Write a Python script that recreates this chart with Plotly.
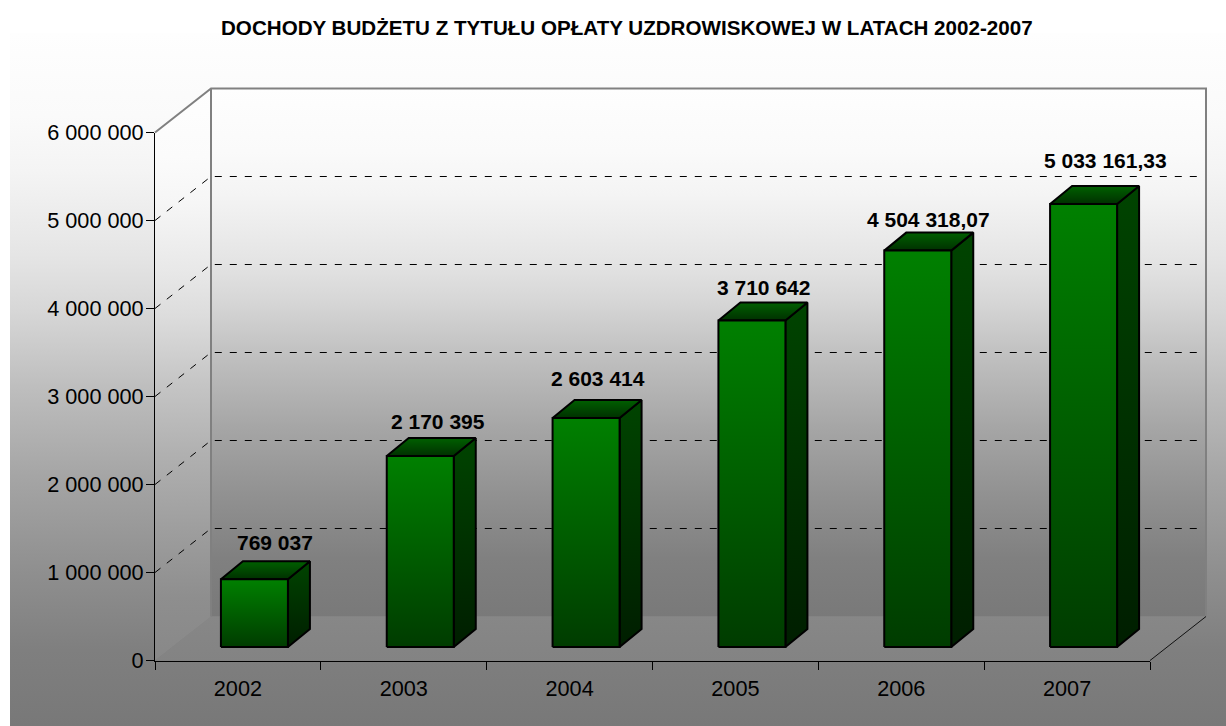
import plotly.graph_objects as go

TITLE = "DOCHODY BUDŻETU Z TYTUŁU OPŁATY UZDROWISKOWEJ W LATACH 2002-2007"
YEARS = ["2002", "2003", "2004", "2005", "2006", "2007"]
VALUES = [769037, 2170395, 2603414, 3710642, 4504318.07, 5033161.33]
VALUE_LABELS = ["769 037", "2 170 395", "2 603 414", "3 710 642", "4 504 318,07", "5 033 161,33"]
Y_TICKS = [0, 1000000, 2000000, 3000000, 4000000, 5000000, 6000000]
Y_TICK_LABELS = ["0", "1 000 000", "2 000 000", "3 000 000", "4 000 000", "5 000 000", "6 000 000"]

# manual label placement of the original (px from bar's front-top centre)
LABEL_SHIFT = [(21, 36.5), (17.5, 35), (12, 39), (12, 33), (11, 31.5), (22, 43.5)]

W, H = 1226, 726
AX_L, AX_R, AX_T, AX_B = 155.0, 1150.0, 132.5, 660.5
XS = (AX_R - AX_L) / 6          # px per category
YS = (AX_B - AX_T) / 6000000    # px per unit


def X(px):
    return (px - AX_L) / XS - 0.5


def Y(px):
    return (AX_B - px) / YS


# wall depth, bar depth, bar offset in data units
WALL_DX, WALL_DY = 56 / XS, 44 / YS
BAR_DX, BAR_DY = 22 / XS, 18 / YS
OFF_DX, OFF_DY = 16.5 / XS, 13.5 / YS
BAR_W = 67 / XS

# grey ramp: (fraction from the top, grey level)
GREY_RAMP = [(0, 254), (.12, 250), (.2, 244), (.32, 228), (.4, 214), (.51, 189),
             (.64, 163), (.77, 142), (.89, 124), (1, 117)]


def ramp(bottom=117):
    """colorscale for the grey ramp, ending at a given grey level at the bottom"""
    k = (255 - bottom) / (255 - 117)
    out = []
    for f, g in reversed(GREY_RAMP):
        c = round(255 - (255 - g) * k)
        out.append([round(1 - f, 3), f"rgb({c},{c},{c})"])
    return out


fig = go.Figure()


def poly(xs, ys, stops, line=None, width=0):
    fig.add_trace(go.Scatter(
        x=list(xs) + [xs[0]], y=list(ys) + [ys[0]], mode="lines", fill="toself",
        fillgradient=dict(type="vertical", colorscale=stops),
        line=dict(color=line or "rgba(0,0,0,0)", width=width),
        hoverinfo="skip", showlegend=False, xaxis="x", yaxis="y"))


def line(xs, ys, color, width, dash="solid"):
    fig.add_trace(go.Scatter(
        x=xs, y=ys, mode="lines", line=dict(color=color, width=width, dash=dash),
        hoverinfo="skip", showlegend=False, xaxis="x", yaxis="y"))


x0, x1 = -0.5, 5.5
ymax = Y_TICKS[-1]

# page background
poly([X(10), X(W + 5), X(W + 5), X(10)], [Y(33), Y(33), Y(H), Y(H)], ramp(120))
# left wall
poly([x0, x0 + WALL_DX, x0 + WALL_DX, x0], [0, WALL_DY, ymax + WALL_DY, ymax], ramp(136))
# back wall
poly([x0 + WALL_DX, x1 + WALL_DX, x1 + WALL_DX, x0 + WALL_DX],
     [WALL_DY, WALL_DY, ymax + WALL_DY, ymax + WALL_DY], ramp(121))
# floor
poly([x0, x1, x1 + WALL_DX, x0 + WALL_DX], [0, 0, WALL_DY, WALL_DY],
     [[0, "#838383"], [1, "#878787"]])

# dashed gridlines
for v in Y_TICKS[1:-1]:
    line([x0, x0 + WALL_DX, x1 + WALL_DX - 5 / XS], [v, v + WALL_DY, v + WALL_DY], "#000000", 1, "7px,8px")

# wall outline
line([x0 + WALL_DX, x0 + WALL_DX], [WALL_DY, ymax + WALL_DY], "#808080", 2)
line([x0, x0 + WALL_DX, x1 + WALL_DX, x1 + WALL_DX],
     [ymax, ymax + WALL_DY, ymax + WALL_DY, WALL_DY], "#808080", 2)
line([x1, x1 + WALL_DX], [0, WALL_DY], "#111111", 1)

# bars
for i, v in enumerate(VALUES):
    l = i - BAR_W / 2 + OFF_DX
    r = i + BAR_W / 2 + OFF_DX
    b = OFF_DY
    t = v + OFF_DY
    poly([r, r + BAR_DX, r + BAR_DX, r], [b, b + BAR_DY, t + BAR_DY, t],
         [[0, "#001e00"], [1, "#004400"]], "#000000", 2)
    poly([l, r, r + BAR_DX, l + BAR_DX], [t, t, t + BAR_DY, t + BAR_DY],
         [[0, "#003000"], [1, "#006000"]], "#000000", 2)
    poly([l, r, r, l], [b, b, t, t],
         [[0, "#003c00"], [1, "#008000"]], "#000000", 2)

# real axes for ticks
fig.add_trace(go.Scatter(x=YEARS, y=VALUES, mode="markers", marker=dict(opacity=0),
                         hoverinfo="skip", showlegend=False, xaxis="x2", yaxis="y2"))

anns = [dict(text=f"<b>{t}</b>", xref="x", yref="y", x=i + OFF_DX, y=v + OFF_DY,
             xshift=sx, yshift=sy, showarrow=False, xanchor="center", yanchor="middle",
             font=dict(family="Liberation Sans", size=21, color="#000000"))
        for i, (t, v, (sx, sy)) in enumerate(zip(VALUE_LABELS, VALUES, LABEL_SHIFT))]
anns.append(dict(text=f"<b>{TITLE}</b>", xref="paper", yref="paper", x=626.5 / W, y=1 - 28 / H,
                 showarrow=False, xanchor="center", yanchor="middle",
                 font=dict(family="Liberation Sans", size=20.6, color="#000000")))

fig.update_layout(
    width=W, height=H, margin=dict(l=0, r=0, t=0, b=0, autoexpand=False),
    paper_bgcolor="#ffffff", plot_bgcolor="rgba(0,0,0,0)", showlegend=False,
    font=dict(family="Liberation Sans", size=21.7, color="#000000"),
    xaxis=dict(domain=[0, 1], range=[X(0), X(W)], visible=False, fixedrange=True),
    yaxis=dict(domain=[0, 1], range=[Y(H), Y(0)], visible=False, fixedrange=True),
    xaxis2=dict(domain=[AX_L / W, AX_R / W], anchor="y2", type="category", categoryorder="array",
                categoryarray=YEARS, range=[-0.5, 5.5], tickson="boundaries", ticks="outside",
                ticklen=8, tickcolor="#000000", tickwidth=1, showline=True, linecolor="#000000",
                linewidth=1, showgrid=False, zeroline=False, ticklabelstandoff=8),
    yaxis2=dict(domain=[1 - AX_B / H, 1 - AX_T / H], anchor="x2", range=[0, ymax],
                tickvals=Y_TICKS, ticktext=Y_TICK_LABELS, ticks="outside", ticklen=8,
                tickcolor="#000000", tickwidth=1, showline=True, linecolor="#000000", linewidth=1,
                showgrid=False, zeroline=False, ticklabelstandoff=-2),
    annotations=anns,
)

fig.write_html("out.html", post_script="document.body.style.margin='0';",
               config=dict(displayModeBar=False))
